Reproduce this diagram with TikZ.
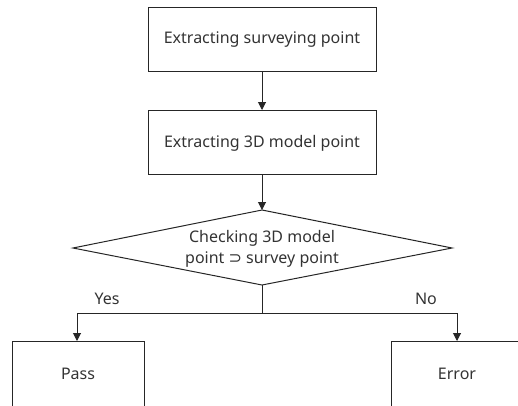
\documentclass[tikz,border=0pt]{standalone}
\usepackage{fontspec}
\setmainfont{Noto Sans}
\newfontfamily\symfont{DejaVu Sans}
\usetikzlibrary{arrows.meta}
\begin{document}
\begin{tikzpicture}[x=1pt,y=-1pt,
  every node/.style={font=\fontsize{16}{21}\selectfont, text=black!80, inner sep=0pt},
  box/.style={draw=black!85, line width=1pt},
  conn/.style={draw=black!85, line width=1pt},
  arr/.style={conn, -{Triangle[width=8pt,length=8pt]}}]
\useasboundingbox (0,0) rectangle (518,405);
\clip (0,0) rectangle (518,405);
% boxes
\draw[box] (148,7) rectangle (376,71);
\node (b1) at (262,40) {Extracting surveying point};
\coordinate (b1s) at (262,71);
\draw[box] (148,110) rectangle (376,174);
\node (b2) at (262,143) {Extracting 3D model point};
\coordinate (b2n) at (262,110);
\coordinate (b2s) at (262,174);
% diamond
\coordinate (dn) at (262,210);
\coordinate (de) at (452,248);
\coordinate (ds) at (262,285);
\coordinate (dw) at (73,248);
\draw[box] (dn) -- (de) -- (ds) -- (dw) -- cycle;
\node[align=center] (d) at (262,249) {Checking 3D model\\point {\symfont ⊃} survey point};
% branches
\coordinate (j) at (262,313);
\coordinate (jl) at (77,313);
\coordinate (jr) at (457,313);
\draw[box] (12,341) rectangle (144,420);
\node (pass) at (78,374) {Pass};
\coordinate (passn) at (77,341);
\draw[box] (391,341) rectangle (530,420);
\node (err) at (457,374) {Error};
\coordinate (errn) at (457,341);
\draw[arr] (b1s) -- (b2n);
\draw[arr] (b2s) -- (dn);
\draw[conn] (ds) -- (j);
\draw[arr] (j) -- (jl) -- (passn);
\draw[arr] (j) -- (jr) -- (errn);
\node (yes) at (107,299) {Yes};
\node (no) at (426,299) {No};
\end{tikzpicture}
\end{document}
